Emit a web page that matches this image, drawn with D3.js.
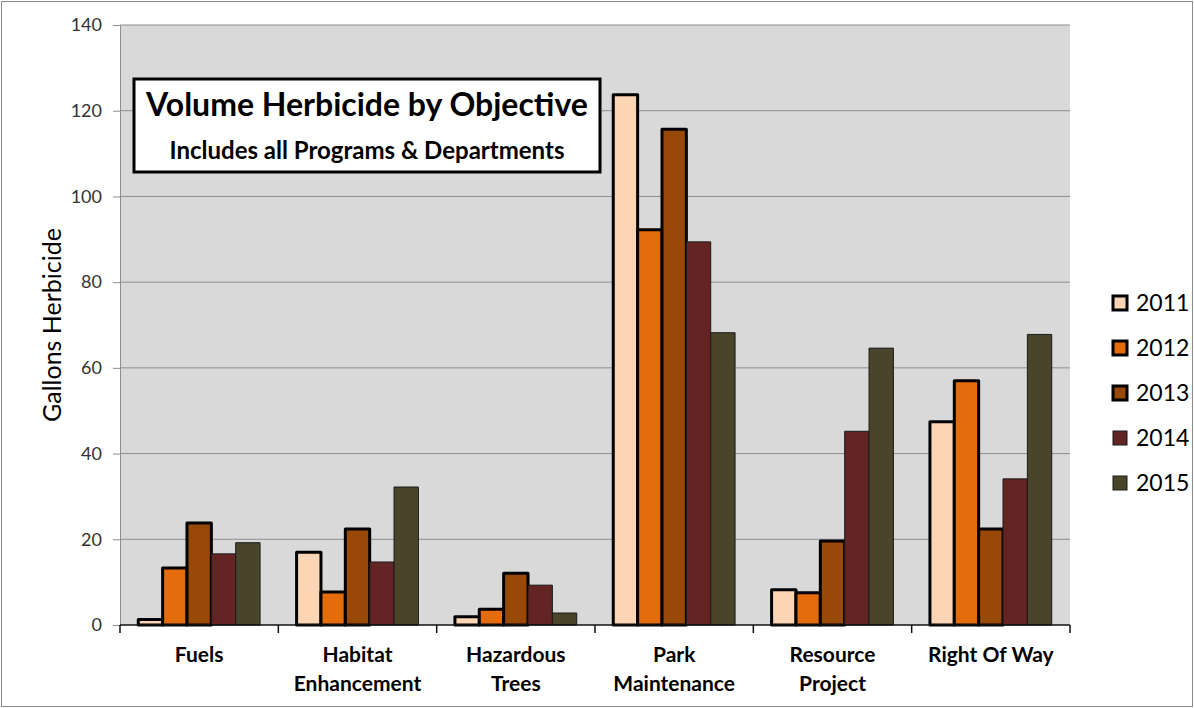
<!DOCTYPE html>
<html>
<head>
<meta charset="utf-8">
<script src="https://cdn.jsdelivr.net/npm/d3@7"></script>
<style>
  body { margin: 0; background: #fff; }
  svg { display: block; }
</style>
</head>
<body>
<svg id="chart" width="1194" height="708"></svg>
<script>
const categories = [['Fuels'], ['Habitat', 'Enhancement'], ['Hazardous', 'Trees'], ['Park', 'Maintenance'], ['Resource', 'Project'], ['Right Of Way']]
const years = ['2011', '2012', '2013', '2014', '2015']
const v2011 = [1.3, 17.0, 1.9, 123.7, 8.2, 47.4]
const v2012 = [13.3, 7.7, 3.7, 92.2, 7.5, 57.0]
const v2013 = [23.8, 22.4, 12.1, 115.7, 19.6, 22.4]
const v2014 = [16.6, 14.7, 9.3, 89.4, 45.2, 34.1]
const v2015 = [19.2, 32.2, 2.8, 68.2, 64.6, 67.8]
const yTicks = [0, 20, 40, 60, 80, 100, 120, 140]

const series = [v2011, v2012, v2013, v2014, v2015]
const colors = ['#FCD5B5', '#E46C0A', '#984807', '#632523', '#4A452A']
const thick = [true, true, true, false, false]
const font = 'Lato, "Open Sans", sans-serif'

const margin = { top: 25, left: 120, right: 124, bottom: 83 }
const W = 1194, H = 708
const width = W - margin.left - margin.right
const height = H - margin.top - margin.bottom

const svg = d3.select('#chart')

// outer frame
svg.append('rect')
  .attr('x', 1.5).attr('y', 1.5)
  .attr('width', W - 3).attr('height', H - 3)
  .attr('fill', '#fff').attr('stroke', '#8c8c8c').attr('stroke-width', 1)

const g = svg.append('g').attr('transform', `translate(${margin.left},${margin.top})`)

const x = d3.scaleBand().domain(d3.range(categories.length)).range([0, width]).paddingInner(0).paddingOuter(0)
const xi = d3.scaleBand().domain(d3.range(years.length)).range([0, x.bandwidth()]).paddingInner(0).paddingOuter(0.75)
const y = d3.scaleLinear().domain([0, 140]).range([height, 0])

// plot background
g.append('rect').attr('width', width).attr('height', height).attr('fill', '#D9D9D9')

// grid
g.selectAll('.grid')
  .data(yTicks.filter(d => d > 0))
  .join('line')
  .attr('x1', 0).attr('x2', width)
  .attr('y1', d => y(d)).attr('y2', d => y(d))
  .attr('stroke', '#8e8e8e').attr('stroke-width', 1)

// y axis
const yAxis = g.append('g')
  .call(d3.axisLeft(y).tickValues(yTicks).tickSize(7).tickPadding(11))
yAxis.select('.domain').attr('stroke', '#8e8e8e')
yAxis.selectAll('line').attr('stroke', '#8e8e8e')
yAxis.selectAll('text').attr('font-family', font).attr('font-size', 18).attr('fill', '#333')

// bars
years.forEach((yr, s) => {
  g.append('g')
    .selectAll('rect')
    .data(series[s])
    .join('rect')
    .attr('x', (d, i) => x(i) + xi(s))
    .attr('y', d => y(d))
    .attr('width', xi.bandwidth())
    .attr('height', d => y(0) - y(d))
    .attr('fill', colors[s])
    .attr('stroke', thick[s] ? '#000' : '#1a1a1a')
    .attr('stroke-width', thick[s] ? 3 : 1)
    .attr('stroke-linejoin', 'round')
})

// x axis
const xAxis = g.append('g').attr('transform', `translate(0,${height})`)
xAxis.append('line').attr('x1', 0).attr('x2', width).attr('stroke', '#111').attr('stroke-width', 1.5)
xAxis.selectAll('.tick')
  .data(d3.range(categories.length + 1))
  .join('line')
  .attr('x1', d => d * x.bandwidth()).attr('x2', d => d * x.bandwidth())
  .attr('y1', 0).attr('y2', 8)
  .attr('stroke', '#111').attr('stroke-width', 1.5)

const labels = xAxis.selectAll('.lab')
  .data(categories)
  .join('text')
  .attr('x', (d, i) => x(i) + x.bandwidth() / 2)
  .attr('y', 37)
  .attr('text-anchor', 'middle')
  .attr('font-family', font).attr('font-weight', 'bold').attr('font-size', 21)
  .attr('fill', '#000')
labels.selectAll('tspan')
  .data(d => d)
  .join('tspan')
  .attr('x', function () { return d3.select(this.parentNode).attr('x') })
  .attr('dy', (d, i) => i === 0 ? 0 : 29)
  .text(d => d)

// y label
svg.append('text')
  .attr('transform', `translate(61,${margin.top + height / 2}) rotate(-90)`)
  .attr('text-anchor', 'middle')
  .attr('font-family', font).attr('font-size', 25).attr('fill', '#000')
  .text('Gallons Herbicide')

// title box
const tb = svg.append('g')
tb.append('rect')
  .attr('x', 134).attr('y', 79).attr('width', 466).attr('height', 93)
  .attr('fill', '#fff').attr('stroke', '#000').attr('stroke-width', 3)
tb.append('text')
  .attr('x', 367).attr('y', 116)
  .attr('text-anchor', 'middle')
  .attr('font-family', font).attr('font-weight', 'bold').attr('font-size', 32)
  .text('Volume Herbicide by Objective')
tb.append('text')
  .attr('x', 367).attr('y', 159)
  .attr('text-anchor', 'middle')
  .attr('font-family', font).attr('font-weight', 'bold').attr('font-size', 24)
  .text('Includes all Programs & Departments')

// legend
const leg = svg.append('g').attr('transform', 'translate(1112,303)')
const li = leg.selectAll('g')
  .data(years)
  .join('g')
  .attr('transform', (d, i) => `translate(0,${i * 45})`)
li.append('rect')
  .attr('x', 1).attr('y', -7).attr('width', 14).attr('height', 14)
  .attr('fill', (d, i) => colors[i])
  .attr('stroke', (d, i) => thick[i] ? '#000' : '#1a1a1a')
  .attr('stroke-width', (d, i) => thick[i] ? 3 : 1)
li.append('text')
  .attr('x', 24).attr('y', 8)
  .attr('font-family', font).attr('font-size', 23).attr('fill', '#000')
  .text(d => d)
</script>
</body>
</html>
